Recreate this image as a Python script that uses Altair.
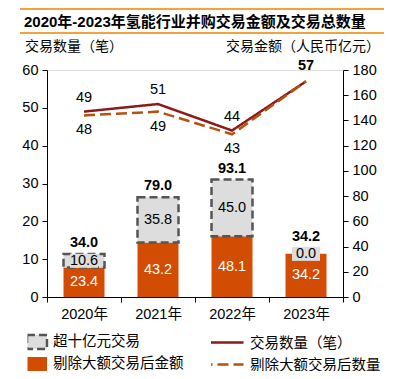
import altair as alt
import pandas as pd

# ---------------- data ----------------
years = ["2020年", "2021年", "2022年", "2023年"]
base_amount = [23.4, 43.2, 48.1, 34.2]      # 剔除大额交易后金额
large_amount = [10.6, 35.8, 45.0, 0.0]      # 超十亿元交易
total_amount = [34.0, 79.0, 93.1, 34.2]     # 交易金额合计
deal_count = [49, 51, 44, 57]               # 交易数量（笔）
deal_count_ex = [48, 49, 43, 57]            # 剔除大额交易后数量

S_LARGE = "超十亿元交易"
S_BASE = "剔除大额交易后金额"
L_ALL = "交易数量（笔）"
L_EX = "剔除大额交易后数量"

TITLE = "2020年-2023年氢能行业并购交易金额及交易总数量"
LEFT_TITLE = "交易数量（笔）"
RIGHT_TITLE = "交易金额（人民币亿元）"

FONT = "Liberation Sans, Arial, Noto Sans CJK SC"
ORANGE = "#D24C03"
GRAY_FILL = "#DDDDDD"
GRAY_EDGE = "#555555"
RED = "#8B1A1A"
BROWN = "#B5520F"

# ---------------- tables ----------------
rows = []
for y, b, l, t in zip(years, base_amount, large_amount, total_amount):
    rows.append(dict(year=y, series=S_BASE, value=b, lo=0.0, hi=b, mid=b / 2,
                     label=f"{b:.1f}", total=t, tlabel=f"{t:.1f}"))
    rows.append(dict(year=y, series=S_LARGE, value=l, lo=b, hi=b + l, mid=b + l / 2,
                     label=f"{l:.1f}", total=t, tlabel=f"{t:.1f}"))
bar_df = pd.DataFrame(rows)

line_rows = []
for y, c, ce in zip(years, deal_count, deal_count_ex):
    line_rows.append(dict(year=y, series=L_ALL, count=c))
    line_rows.append(dict(year=y, series=L_EX, count=ce))
line_df = pd.DataFrame(line_rows)

# ---------------- shared encodings ----------------
x_axis = alt.Axis(title=None, labelAngle=0, tickBand="extent", domainColor="black",
                  tickColor="black", tickSize=5, labelFontSize=14.5, labelPadding=5,
                  labelColor="black", labelFont=FONT)
X = alt.X("year:N", sort=years,
          scale=alt.Scale(domain=years, paddingInner=0, paddingOuter=0), axis=x_axis)

right_axis = alt.Axis(orient="right", title=None, values=list(range(0, 181, 20)),
                      grid=False, domainColor="black", tickColor="black", tickSize=5,
                      labelFontSize=14.5, labelPadding=4, labelColor="black", labelFont=FONT)
left_axis = alt.Axis(orient="left", title=None, values=list(range(0, 61, 10)),
                     grid=False, domainColor="black", tickColor="black", tickSize=5,
                     labelFontSize=14.5, labelPadding=4, labelColor="black", labelFont=FONT)

amt_scale = alt.Scale(domain=[0, 180], nice=False, zero=True)
cnt_scale = alt.Scale(domain=[0, 60], nice=False, zero=True)

is_large = "datum.series === '超十亿元交易'"

bar_legend = alt.Legend(
    title=None, orient="none", legendX=-19.5, legendY=262, direction="vertical",
    symbolType="M-1.25,-0.875H1.25V0.875H-1.25Z", symbolSize=256, symbolStrokeWidth=2.5,
    labelFontSize=14.5, labelFont=FONT, labelColor="black", labelOffset=6.5,
    rowPadding=2, padding=0, labelLimit=300, symbolOpacity=1, clipHeight=20,
)

line_legend = alt.Legend(
    title=None, orient="none", legendX=164, legendY=264, direction="vertical",
    symbolType="M-2.1,-0.15H2.1", symbolSize=400, symbolStrokeWidth=2.5,
    labelFontSize=14.5, labelFont=FONT, labelColor="black", labelOffset=16,
    rowPadding=2, padding=0, labelLimit=300, clipHeight=20,
)

bar_dom = [S_LARGE, S_BASE]

# ---------------- bar layers (right axis) ----------------
bars = alt.Chart(bar_df).transform_filter("datum.value > 0").mark_bar(
    size=41, opacity=1, strokeWidth=2.5
).encode(
    x=X,
    y=alt.Y("lo:Q", scale=amt_scale, axis=right_axis),
    y2="hi:Q",
    fill=alt.Fill("series:N", scale=alt.Scale(domain=bar_dom, range=[GRAY_FILL, ORANGE]),
                  legend=bar_legend),
    stroke=alt.Stroke("series:N", scale=alt.Scale(domain=bar_dom,
                                                  range=[GRAY_EDGE, "transparent"]),
                      legend=bar_legend),
    strokeDash=alt.StrokeDash("series:N", scale=alt.Scale(domain=bar_dom,
                                                          range=[[8, 4], [1, 0]]),
                              legend=bar_legend),
)

label_bg = alt.Chart(bar_df).transform_filter(is_large).mark_point(
    shape="M-1,-0.5H1V0.5H-1Z", size=784, filled=True, color=GRAY_FILL, opacity=1,
    strokeWidth=0,
).encode(x=X, y=alt.Y("mid:Q", scale=amt_scale, axis=right_axis))

seg_text = alt.Chart(bar_df).mark_text(fontSize=14.5, font=FONT, baseline="middle").encode(
    x=X,
    y=alt.Y("mid:Q", scale=amt_scale, axis=right_axis),
    text="label:N",
    color=alt.condition(is_large, alt.value("black"), alt.value("white")),
)

tot_src = alt.Chart(bar_df).transform_filter(is_large)
tot_text = tot_src.transform_filter("datum.value > 0").mark_text(
    fontSize=14.5, font=FONT, fontWeight="bold", baseline="middle", dy=-11, color="black"
).encode(x=X, y=alt.Y("total:Q", scale=amt_scale, axis=right_axis), text="tlabel:N")
tot_text0 = tot_src.transform_filter("datum.value <= 0").mark_text(
    fontSize=14.5, font=FONT, fontWeight="bold", baseline="middle", dy=-17, color="black"
).encode(x=X, y=alt.Y("total:Q", scale=amt_scale, axis=right_axis), text="tlabel:N")

bar_layer = alt.layer(bars, label_bg, seg_text, tot_text, tot_text0)

# ---------------- line layers (left axis) ----------------
line_dom = [L_ALL, L_EX]
lines = alt.Chart(line_df).mark_line(strokeWidth=2.5).encode(
    x=X,
    y=alt.Y("count:Q", scale=cnt_scale, axis=left_axis),
    stroke=alt.Stroke("series:N", scale=alt.Scale(domain=line_dom, range=[RED, BROWN]),
                      legend=line_legend),
    strokeDash=alt.StrokeDash("series:N", scale=alt.Scale(domain=line_dom,
                                                          range=[[1, 0], [11, 5]]),
                              legend=line_legend),
)

solid_src = alt.Chart(line_df).transform_filter(f"datum.series === '{L_ALL}'")
solid_text = solid_src.transform_filter("datum.year !== '2023年'").mark_text(
    fontSize=14.5, font=FONT, baseline="middle", dy=-14, color="black"
).encode(x=X, y=alt.Y("count:Q", scale=cnt_scale, axis=left_axis), text="count:Q")
solid_text_last = solid_src.transform_filter("datum.year === '2023年'").mark_text(
    fontSize=14.5, font=FONT, fontWeight="bold", baseline="middle", dy=-15, color="black"
).encode(x=X, y=alt.Y("count:Q", scale=cnt_scale, axis=left_axis), text="count:Q")
dash_text = alt.Chart(line_df).transform_filter(
    f"datum.series === '{L_EX}' && datum.year !== '2023年'"
).mark_text(fontSize=14.5, font=FONT, baseline="middle", dy=15, color="black").encode(
    x=X, y=alt.Y("count:Q", scale=cnt_scale, axis=left_axis), text="count:Q")

line_layer = alt.layer(lines, solid_text, solid_text_last, dash_text)

# ---------------- decorations ----------------
one = pd.DataFrame({"k": [0]})
rule_top = alt.Chart(one).mark_rule(color="#F2A33A", strokeWidth=2).encode(
    x=alt.value(-27), x2=alt.value(337), y=alt.value(-61))
rule_bot = alt.Chart(one).mark_rule(color="#F2A33A", strokeWidth=2).encode(
    x=alt.value(-27), x2=alt.value(337), y=alt.value(-37))
title_text = alt.Chart(one).mark_text(
    align="left", baseline="middle", fontSize=15, fontWeight="bold", font=FONT, color="black"
).encode(x=alt.value(-23), y=alt.value(-48.5), text=alt.value(TITLE))
ltitle = alt.Chart(one).mark_text(
    align="left", baseline="middle", fontSize=14, font=FONT, color="black"
).encode(x=alt.value(-22), y=alt.value(-23.5), text=alt.value(LEFT_TITLE))
rtitle = alt.Chart(one).mark_text(
    align="right", baseline="middle", fontSize=14, font=FONT, color="black"
).encode(x=alt.value(333), y=alt.value(-23.5), text=alt.value(RIGHT_TITLE))

deco = alt.layer(rule_top, rule_bot, title_text, ltitle, rtitle)

chart = alt.layer(line_layer, bar_layer, deco).resolve_scale(
    y="independent", stroke="independent", strokeDash="independent", fill="independent"
).properties(
    width=296, height=227,
    padding={"left": 39, "top": 62, "right": 51, "bottom": 74},
    autosize=alt.AutoSizeParams(type="none"),
).configure_view(stroke=None).configure(font=FONT)

chart.save("out.html", embed_options={"renderer": "svg", "actions": False})
